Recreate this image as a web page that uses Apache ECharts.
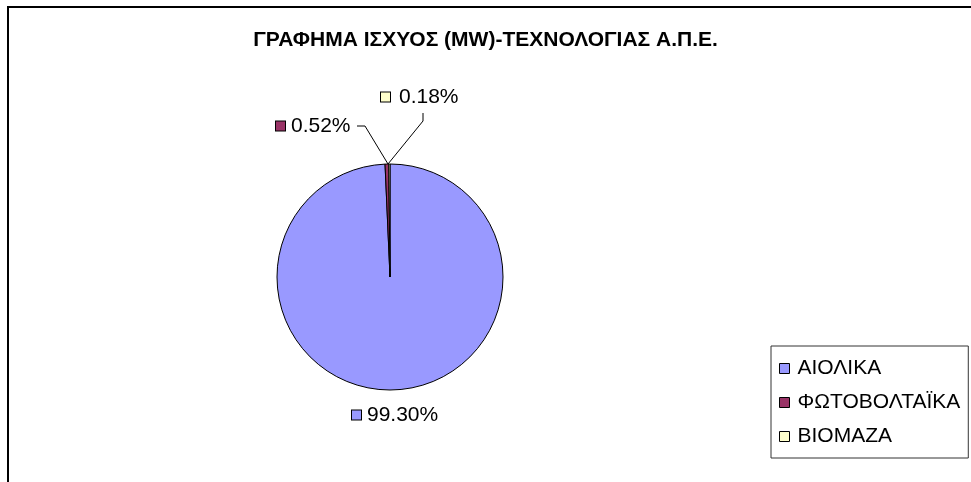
<!DOCTYPE html>
<html>
<head>
<meta charset="utf-8">
<script src="https://cdn.jsdelivr.net/npm/echarts@6/dist/echarts.min.js"></script>
<style>
html, body { margin: 0; padding: 0; background: #fff; }
#pie { width: 971px; height: 482px; }
</style>
</head>
<body>
<div id="pie"></div>
<script>
var titleText = 'ΓΡΑΦΗΜΑ ΙΣΧΥΟΣ (MW)-ΤΕΧΝΟΛΟΓΙΑΣ Α.Π.Ε.';
var categories = ['ΑΙΟΛΙΚΑ', 'ΦΩΤΟΒΟΛΤΑΪΚΑ', 'ΒΙΟΜΑΖΑ'];
var shares = [99.30, 0.52, 0.18];
var colors = ['#9999ff', '#993366', '#ffffcc'];

// where the Excel-style labels sit: [x, y] of the label, then leader line points
var labelSpots = [
    { x: 352, y: 415, line: null },
    { x: 276, y: 126, line: [[388, 164], [365, 126], [357, 126]] },
    { x: 381, y: 97, line: [[388, 164], [423, 121], [423, 113]] }
];

var chart = echarts.init(document.getElementById('pie'), null, {renderer: 'canvas'});

var items = [];
for (var i = 0; i < categories.length; i++) {
    items.push({
        name: categories[i],
        value: shares[i],
        itemStyle: { color: colors[i] },
        label: {
            rich: {
                sq: { width: 9, height: 9, backgroundColor: colors[i], borderColor: '#000', borderWidth: 1 },
                t: { fontSize: 21, color: '#000', padding: [0, 0, 0, i === 2 ? 9 : 6] }
            }
        },
        labelLine: { show: labelSpots[i].line !== null }
    });
}

chart.setOption({
    animation: false,
    backgroundColor: '#fff',
    textStyle: { fontFamily: 'Liberation Sans, Arial, sans-serif' },
    title: {
        text: titleText,
        left: 'center',
        top: 25,
        textStyle: { fontSize: 21, fontWeight: 'bold', color: '#000', fontFamily: 'Liberation Sans, Arial, sans-serif' }
    },
    legend: {
        orient: 'vertical',
        left: 771,
        right: 3,
        top: 346,
        padding: [12, 8, 11, 8],
        borderColor: '#333',
        borderWidth: 1,
        itemWidth: 10,
        itemHeight: 10,
        itemGap: 13,
        icon: 'rect',
        itemStyle: { borderColor: '#000', borderWidth: 1 },
        textStyle: { fontSize: 21, color: '#000', padding: [0, 0, 0, 3] },
        data: categories
    },
    graphic: [{
        type: 'polyline',
        shape: { points: [[8, 482], [8, 7], [971, 7]] },
        style: { stroke: '#000', lineWidth: 2, fill: null }
    }],
    series: [{
        type: 'pie',
        center: [390, 277],
        radius: 113,
        startAngle: 90,
        clockwise: true,
        minAngle: 0,
        avoidLabelOverlap: false,
        itemStyle: { borderColor: '#000', borderWidth: 1 },
        emphasis: { disabled: true },
        label: {
            show: true,
            color: '#000',
            fontSize: 21,
            formatter: function (p) { return '{sq|}{t|' + p.value.toFixed(2) + '%}'; }
        },
        labelLine: { lineStyle: { color: '#000', width: 1 } },
        labelLayout: function (p) {
            var s = labelSpots[p.dataIndex];
            var out = { x: s.x, y: s.y, align: 'left', verticalAlign: 'middle' };
            if (s.line) out.labelLinePoints = s.line;
            return out;
        },
        data: items
    }]
});
</script>
</body>
</html>
